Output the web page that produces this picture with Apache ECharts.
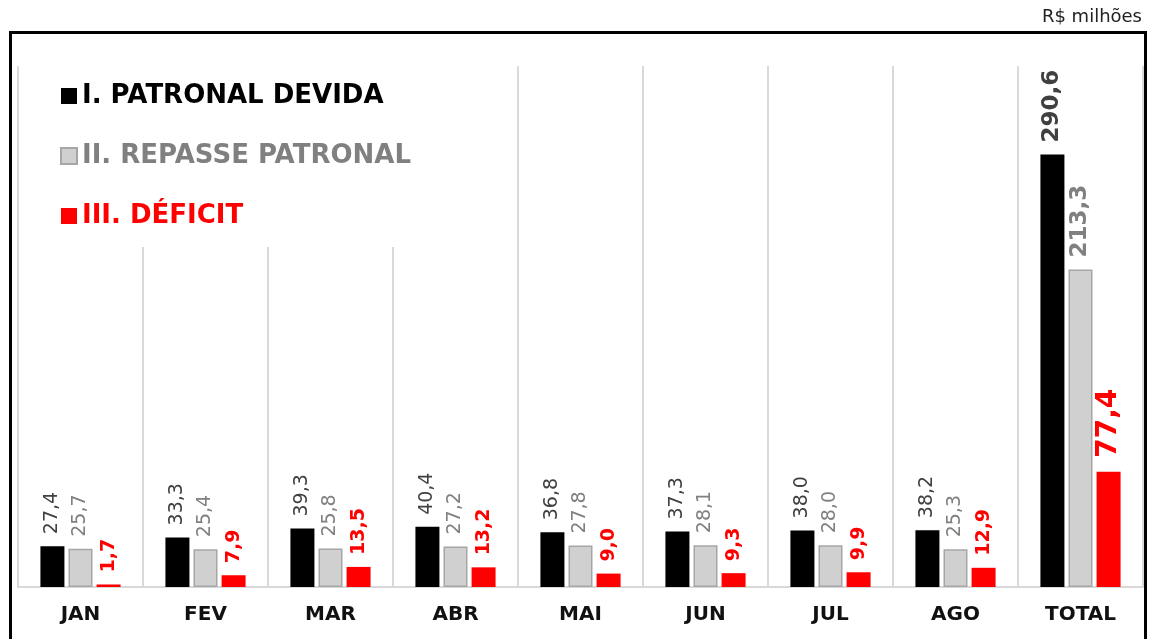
<!DOCTYPE html>
<html>
<head>
<meta charset="utf-8">
<script src="https://cdn.jsdelivr.net/npm/echarts@6/dist/echarts.min.js"></script>
<style>
  html, body { margin: 0; padding: 0; background: #fff; }
  #chart { width: 1150px; height: 639px; }
</style>
</head>
<body>
<div id="chart"></div>
<script>
const categories = ['JAN', 'FEV', 'MAR', 'ABR', 'MAI', 'JUN', 'JUL', 'AGO', 'TOTAL'];
const patronalDevida = [27.4, 33.3, 39.3, 40.4, 36.8, 37.3, 38.0, 38.2, 290.6];
const repassePatronal = [25.7, 25.4, 25.8, 27.2, 27.8, 28.1, 28.0, 25.3, 213.3];
const deficit = [1.7, 7.9, 13.5, 13.2, 9.0, 9.3, 9.9, 12.9, 77.4];

const font = 'DejaVu Sans, Verdana, sans-serif';
const fmt = (p) => p.value.toFixed(1).replace('.', ',');

// último item (TOTAL) tem rótulo maior e em negrito
const withTotal = (arr, totalLabel) =>
  arr.map((v, i) => (i === arr.length - 1 ? { value: v, label: totalLabel } : v));

const baseLabel = {
  show: true,
  position: 'top',
  rotate: 90,
  align: 'left',
  verticalAlign: 'middle',
  distance: 12,
  fontFamily: font,
  fontSize: 19,
  formatter: fmt,
};

const chart = echarts.init(document.getElementById('chart'));
chart.setOption({
  animation: false,
  textStyle: { fontFamily: font },
  graphic: [
    {
      type: 'rect',
      shape: { x: 10.5, y: 32.5, width: 1135, height: 640 },
      style: { fill: 'none', stroke: '#000', lineWidth: 3 },
      z: 10,
    },
    {
      type: 'text',
      right: 8,
      top: 8,
      style: { text: 'R$ milhões', fontFamily: font, fontSize: 18, fill: '#222' },
    },
  ],
  legend: {
    orient: 'vertical',
    left: 22,
    top: 66,
    padding: [17, 40, 18, 38],
    backgroundColor: '#fff',
    itemWidth: 16,
    itemHeight: 16,
    itemGap: 34,
    icon: 'rect',
    textStyle: { fontFamily: font, fontSize: 26, fontWeight: 'bold', lineHeight: 26 },
    data: [
      { name: 'I. PATRONAL DEVIDA', textStyle: { color: '#000' } },
      { name: 'II. REPASSE PATRONAL', textStyle: { color: '#808080' } },
      { name: 'III. DÉFICIT', textStyle: { color: '#ff0000' } },
    ],
  },
  grid: { left: 18, right: 7, top: 66, bottom: 52 },
  xAxis: {
    type: 'category',
    data: categories,
    axisLine: { lineStyle: { color: '#d9d9d9', width: 2 } },
    axisTick: { show: false },
    axisLabel: {
      fontFamily: font,
      fontSize: 20,
      fontWeight: 'bold',
      color: '#111',
      margin: 18,
    },
    splitLine: { show: true, lineStyle: { color: '#d9d9d9', width: 2 } },
  },
  yAxis: {
    type: 'value',
    min: 0,
    max: 350,
    show: false,
    splitLine: { show: false },
  },
  series: [
    {
      name: 'I. PATRONAL DEVIDA',
      type: 'bar',
      barWidth: 24,
      barGap: '17%',
      itemStyle: { color: '#000' },
      label: { ...baseLabel, color: '#404040' },
      data: withTotal(patronalDevida, { fontSize: 23, fontWeight: 'bold' }),
    },
    {
      name: 'II. REPASSE PATRONAL',
      type: 'bar',
      barWidth: 24,
      barGap: '17%',
      itemStyle: { color: '#d0d0d0', borderColor: '#a6a6a6', borderWidth: 1.5 },
      label: { ...baseLabel, color: '#808080' },
      data: withTotal(repassePatronal, { fontSize: 23, fontWeight: 'bold' }),
    },
    {
      name: 'III. DÉFICIT',
      type: 'bar',
      barWidth: 24,
      barGap: '17%',
      itemStyle: { color: '#ff0000' },
      label: { ...baseLabel, color: '#ff0000', fontWeight: 'bold' },
      data: withTotal(deficit, { fontSize: 28, fontWeight: 'bold', distance: 14 }),
    },
  ],
});
window.addEventListener('resize', () => {
  chart.resize();
});
</script>
</body>
</html>
